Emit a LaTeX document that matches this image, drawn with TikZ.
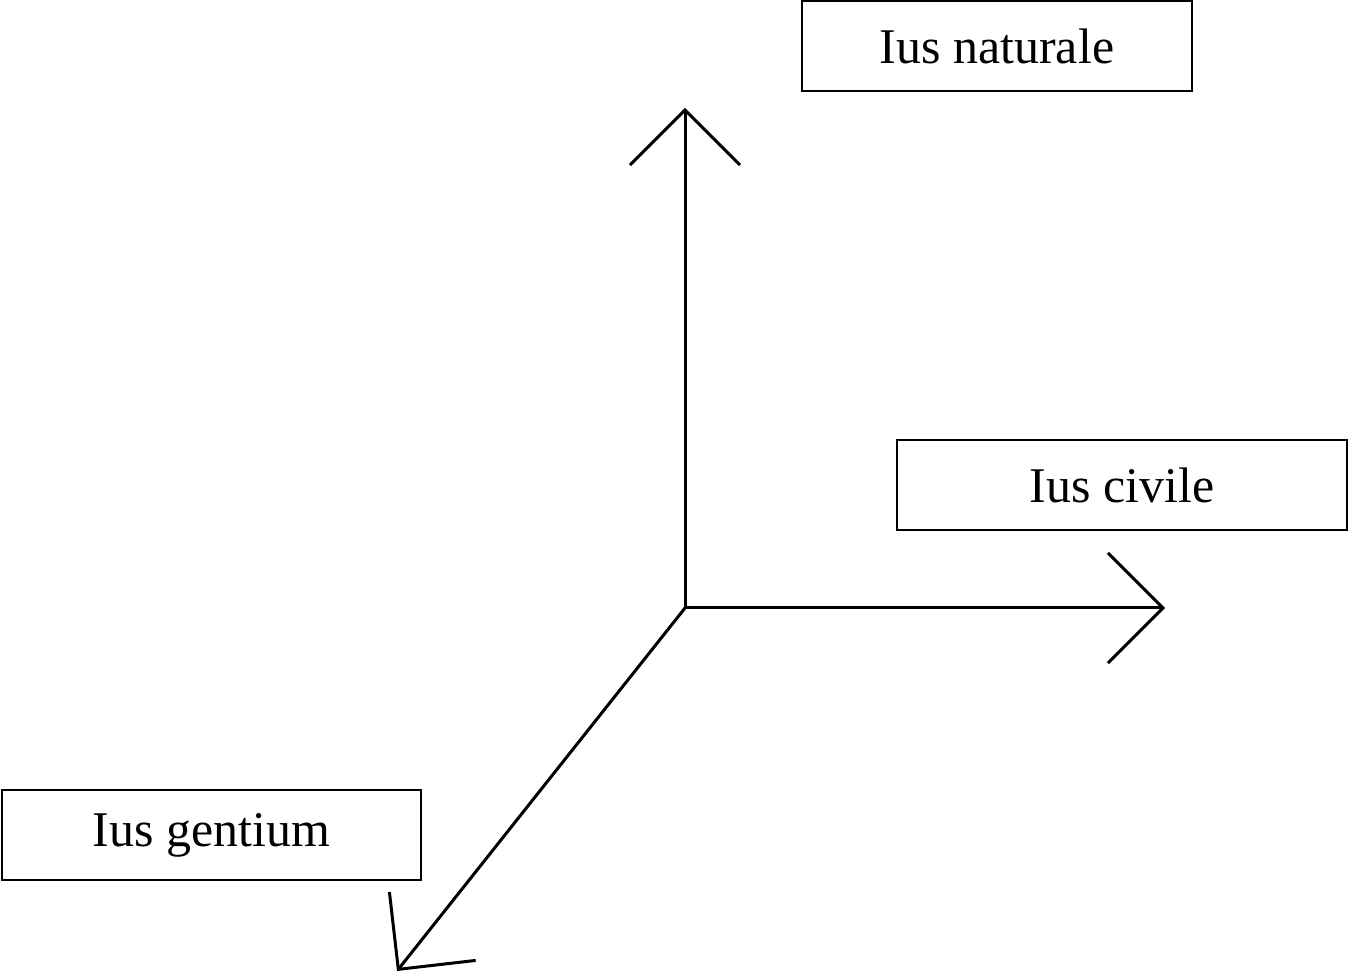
\documentclass[tikz,border=0pt]{standalone}
\usepackage{fontspec}
\setmainfont{Liberation Serif}
\usetikzlibrary{arrows.meta}
\begin{document}
\begin{tikzpicture}[x=0.01cm,y=-0.01cm,
  lab/.style={draw,line width=0.02cm,minimum width=3.9cm,minimum height=0.9cm,inner sep=0pt,font=\fontsize{14.2}{16}\selectfont},
  axis/.style={line width=0.03cm,-{Straight Barb[length=0.55cm,width=1.1cm,line width=0.03cm]}}]
\useasboundingbox (0,0) rectangle (1349,974);
\node[lab] (nat) at (997,46) {Ius naturale};
\node[lab,minimum width=4.5cm] (civ) at (1122,485) {Ius civile};
\node[lab,minimum width=4.19cm] (gen) at (211.5,835) {Ius gentium};
\coordinate (o) at (685,608);
\coordinate (up) at (685,108);
\coordinate (rt) at (1165,608);
\coordinate (dl) at (397,971);
\draw[axis] (o) -- (up);
\draw[axis] (o) -- (rt);
\draw[axis] (o) -- (dl);
\end{tikzpicture}
\end{document}
